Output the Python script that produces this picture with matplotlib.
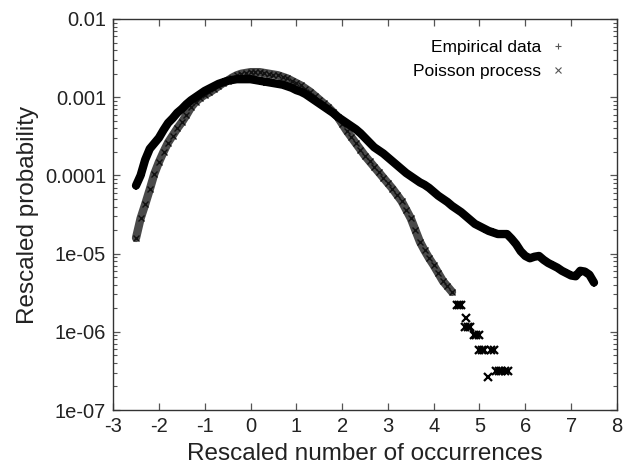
import numpy as np
import matplotlib
matplotlib.use("Agg")
import matplotlib.pyplot as plt

plt.rcParams['font.family'] = ['Liberation Sans', 'DejaVu Sans']

# Empirical data: rescaled occurrences vs log10(rescaled probability)
emp_x = [-2.5, -2.4, -2.3, -2.2, -2.1, -2.0, -1.9, -1.8, -1.7, -1.6, -1.5, -1.4, -1.3, -1.2, -1.1,
         -1.0, -0.9, -0.8, -0.7, -0.6, -0.5, -0.4, -0.3, -0.2, -0.1, 0.0, 0.1, 0.2, 0.3, 0.4,
         0.5, 0.6, 0.7, 0.8, 0.9, 1.0, 1.1, 1.2, 1.3, 1.4, 1.5, 1.6, 1.7, 1.8, 1.9,
         2.0, 2.1, 2.2, 2.3, 2.4, 2.5, 2.6, 2.7, 2.8, 2.9, 3.0, 3.1, 3.2, 3.3, 3.4,
         3.5, 3.6, 3.7, 3.8, 3.9, 4.0, 4.1, 4.2, 4.3, 4.4, 4.5, 4.6, 4.7, 4.8, 4.9,
         5.0, 5.1, 5.2, 5.3, 5.4, 5.5, 5.6, 5.7, 5.8, 5.9, 6.0, 6.1, 6.2, 6.3, 6.4,
         6.5, 6.6, 6.7, 6.8, 6.9, 7.0, 7.1, 7.2, 7.3, 7.4, 7.5]
emp_log = [-4.13, -4.00, -3.80, -3.66, -3.59, -3.52, -3.42, -3.33, -3.27, -3.20, -3.15, -3.09, -3.04, -3.00, -2.96,
           -2.92, -2.89, -2.86, -2.83, -2.81, -2.79, -2.78, -2.77, -2.77, -2.77, -2.77, -2.78, -2.79, -2.80, -2.81,
           -2.82, -2.83, -2.84, -2.86, -2.88, -2.91, -2.93, -2.96, -3.00, -3.04, -3.08, -3.12, -3.16, -3.20, -3.25,
           -3.29, -3.33, -3.37, -3.41, -3.46, -3.52, -3.58, -3.64, -3.68, -3.72, -3.77, -3.82, -3.87, -3.92, -3.97,
           -4.01, -4.05, -4.09, -4.12, -4.16, -4.21, -4.26, -4.30, -4.34, -4.39, -4.43, -4.47, -4.52, -4.57, -4.62,
           -4.65, -4.68, -4.71, -4.73, -4.75, -4.75, -4.75, -4.81, -4.88, -4.97, -5.03, -5.06, -5.04, -5.03, -5.08,
           -5.12, -5.15, -5.18, -5.22, -5.25, -5.28, -5.29, -5.22, -5.23, -5.27, -5.37]

# Poisson process: dense part
poi_x = [-2.5, -2.4, -2.3, -2.2, -2.1, -2.0, -1.9, -1.8, -1.7, -1.6, -1.5, -1.4, -1.3, -1.2, -1.1,
         -1.0, -0.9, -0.8, -0.7, -0.6, -0.5, -0.4, -0.3, -0.2, -0.1, 0.0, 0.1, 0.2, 0.3, 0.4,
         0.5, 0.6, 0.7, 0.8, 0.9, 1.0, 1.1, 1.2, 1.3, 1.4, 1.5, 1.6, 1.7, 1.8, 1.9,
         2.0, 2.1, 2.2, 2.3, 2.4, 2.5, 2.6, 2.7, 2.8, 2.9, 3.0, 3.1, 3.2, 3.3, 3.4,
         3.5, 3.6, 3.7, 3.8, 3.9, 4.0, 4.1, 4.2, 4.3, 4.4]
poi_log = [-4.80, -4.55, -4.37, -4.18, -3.98, -3.83, -3.70, -3.58, -3.49, -3.40, -3.32, -3.23, -3.13, -3.06, -3.01,
           -2.97, -2.94, -2.90, -2.86, -2.82, -2.79, -2.75, -2.72, -2.70, -2.69, -2.68, -2.68, -2.68, -2.69, -2.70,
           -2.71, -2.72, -2.74, -2.76, -2.79, -2.82, -2.85, -2.89, -2.93, -2.98, -3.03, -3.08, -3.13, -3.19, -3.25,
           -3.34, -3.43, -3.51, -3.59, -3.67, -3.75, -3.82, -3.89, -3.96, -4.03, -4.10, -4.17, -4.25, -4.33, -4.44,
           -4.55, -4.70, -4.85, -4.96, -5.06, -5.15, -5.25, -5.35, -5.42, -5.49]

# Poisson process: sparse tail (discrete levels)
poi_tail_x = [4.50, 4.55, 4.60, 4.71, 4.68, 4.75, 4.80, 4.88, 4.93, 4.98,
              5.00, 5.05, 5.10, 5.25, 5.32, 5.18, 5.35, 5.42, 5.48, 5.55, 5.62]
poi_tail_log = [-5.66, -5.66, -5.66, -5.82, -5.94, -5.94, -5.94, -6.04, -6.04, -6.04,
                -6.23, -6.23, -6.23, -6.23, -6.23, -6.58, -6.50, -6.50, -6.50, -6.50, -6.50]

x_ticks = [-3, -2, -1, 0, 1, 2, 3, 4, 5, 6, 7, 8]
y_ticks = [1e-2, 1e-3, 1e-4, 1e-5, 1e-6, 1e-7]
y_ticklabels = ['0.01', '0.001', '0.0001', '1e-05', '1e-06', '1e-07']

emp_y = 10 ** np.array(emp_log)
poi_y = 10 ** np.array(poi_log)
poi_tail_y = 10 ** np.array(poi_tail_log)

fig = plt.figure(figsize=(6.25, 4.71), dpi=100)
ax = fig.add_axes([0.181, 0.1295, 0.806, 0.8302])

ax.plot(poi_x, poi_y, color='#4a4a4a', lw=6.0, solid_capstyle='round', zorder=2)
ax.plot(poi_x, poi_y, ls='none', marker='x', ms=5, mew=1.0, color='#111111', zorder=3)
ax.plot(poi_tail_x, poi_tail_y, ls='none', marker='x', ms=6, mew=1.6, color='black', zorder=3)

ax.plot(emp_x, emp_y, color='black', lw=6.0, solid_capstyle='round', zorder=4)
ax.plot(emp_x, emp_y, ls='none', marker='+', ms=6, mew=1.2, color='black', zorder=5)

# legend handles (gnuplot style: text then small marker)
h1, = ax.plot([], [], ls='none', marker='+', ms=5, mew=0.8, color='#555555', label='Empirical data')
h2, = ax.plot([], [], ls='none', marker='x', ms=4.5, mew=0.8, color='#555555', label='Poisson process')
ax.legend(handles=[h1, h2], loc='upper right', frameon=False, markerfirst=False,
          fontsize=12.5, handlelength=1.0, handletextpad=0.5, labelspacing=0.55,
          bbox_to_anchor=(0.915, 0.965), borderaxespad=0.0)

ax.set_yscale('log')
ax.set_xlim(-3, 8)
ax.set_ylim(1e-7, 1e-2)
ax.set_xticks(x_ticks)
ax.set_xticklabels([str(t) for t in x_ticks])
ax.set_yticks(y_ticks)
ax.set_yticklabels(y_ticklabels)
ax.yaxis.set_minor_locator(matplotlib.ticker.LogLocator(base=10, subs=np.arange(2, 10)))
ax.yaxis.set_minor_formatter(matplotlib.ticker.NullFormatter())

ax.tick_params(axis='both', which='both', direction='in', top=True, right=True,
               labelsize=14.5, colors='#222222', pad=5)
ax.tick_params(axis='both', which='major', length=5, width=0.9, color='#555555')
ax.tick_params(axis='y', which='minor', length=3, width=0.8, color='#555555')
for s in ax.spines.values():
    s.set_color('#333333')
    s.set_linewidth(1.0)

ax.set_xlabel('Rescaled number of occurrences', fontsize=17.5, color='#222222', labelpad=5)
ax.set_ylabel('Rescaled probability', fontsize=17.5, color='#222222', labelpad=4)

fig.savefig('out.png', dpi=100)
